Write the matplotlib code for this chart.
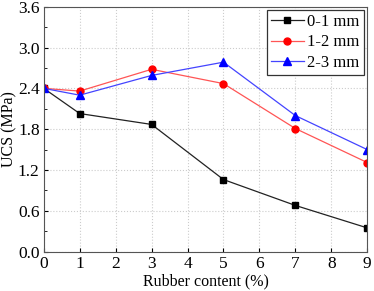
import matplotlib
matplotlib.use("Agg")
import matplotlib.pyplot as plt
from matplotlib.ticker import MultipleLocator

rubber = [0, 1, 3, 5, 7, 9]
ucs_01 = [2.40, 2.03, 1.87, 1.06, 0.68, 0.35]
ucs_12 = [2.40, 2.36, 2.68, 2.47, 1.81, 1.31]
ucs_23 = [2.40, 2.30, 2.59, 2.785, 2.00, 1.50]

plt.rcParams["font.family"] = ["Liberation Serif", "DejaVu Serif"]
plt.rcParams["font.size"] = 12

fig = plt.figure(figsize=(3.74, 2.91), dpi=100)
ax = fig.add_axes([0.117, 0.135, 0.865, 0.842])

ax.plot(rubber, ucs_01, color="#222222", marker="s", markersize=4.5,
        markerfacecolor="black", markeredgecolor="black", linewidth=0.9, label="0-1 mm")
ax.plot(rubber, ucs_12, color="#ff5555", marker="o", markersize=5,
        markerfacecolor="red", markeredgecolor="red", linewidth=0.9, label="1-2 mm")
ax.plot(rubber, ucs_23, color="#4444ff", marker="^", markersize=5.5,
        markerfacecolor="blue", markeredgecolor="blue", linewidth=0.9, label="2-3 mm")

ax.set_xlim(0, 9)
ax.set_ylim(0, 3.6)
ax.xaxis.set_major_locator(MultipleLocator(1))
ax.yaxis.set_major_locator(MultipleLocator(0.6))
ax.yaxis.set_minor_locator(MultipleLocator(0.3))
ax.yaxis.set_major_formatter(plt.FormatStrFormatter("%.1f"))
ax.tick_params(direction="in", which="both", length=3, pad=3, labelsize=12.5)
ax.tick_params(which="minor", length=2)
ax.grid(True, which="major", color="#cccccc", linestyle=":", linewidth=0.8)

for side in ("top", "right", "left", "bottom"):
    ax.spines[side].set_color("#555555")

ax.set_xlabel("Rubber content (%)", labelpad=1, fontsize=11.5)
ax.set_ylabel("UCS (MPa)", fontsize=11.5)
ax.yaxis.set_label_coords(-0.083, 0.5)

leg = ax.legend(loc="upper right", fancybox=False, edgecolor="#333333",
                framealpha=1, handlelength=2.0, borderaxespad=0.2,
                labelspacing=0.25, borderpad=0.25, handletextpad=0.2)
leg.get_frame().set_linewidth(0.9)

fig.savefig("out.png", dpi=100)
